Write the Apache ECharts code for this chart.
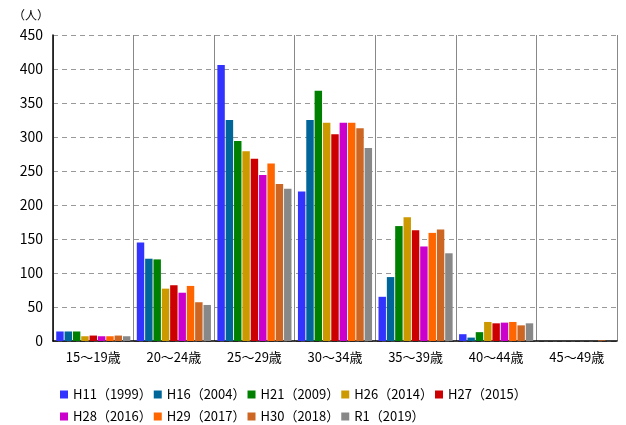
<!DOCTYPE html>
<html lang="ja">
<head>
<meta charset="UTF-8">
<title>年齢別</title>
<script src="https://cdn.jsdelivr.net/npm/echarts@6/dist/echarts.min.js"></script>
<style>
  html, body { margin: 0; padding: 0; background: #fff; }
  #main { width: 626px; height: 425px; }
</style>
</head>
<body>
<div id="main"></div>
<script>
// 年齢区分
const ageGroups = ['15～19歳', '20～24歳', '25～29歳', '30～34歳', '35～39歳', '40～44歳', '45～49歳'];
const yTicks = [0, 50, 100, 150, 200, 250, 300, 350, 400, 450];

// 年度ごとの人数
const seriesNames = ['H11（1999）', 'H16（2004）', 'H21（2009）', 'H26（2014）', 'H27（2015）',
                     'H28（2016）', 'H29（2017）', 'H30（2018）', 'R1（2019）'];
const h11 = [14, 145, 406, 220, 65, 10, 0];
const h16 = [14, 121, 325, 325, 94, 5, 0];
const h21 = [14, 120, 294, 368, 169, 13, 0];
const h26 = [7, 77, 279, 321, 182, 28, 0];
const h27 = [8, 82, 268, 304, 163, 26, 0];
const h28 = [7, 71, 244, 321, 139, 27, 0];
const h29 = [7, 81, 261, 321, 159, 28, 0];
const h30 = [8, 57, 231, 313, 164, 23, 1];
const r1  = [7, 53, 224, 284, 129, 26, 0];
const colors = ['#3333ff', '#006699', '#008000', '#cc9900', '#cc0000', '#cc00cc', '#ff6600', '#cc6622', '#888888'];

const allValues = [h11, h16, h21, h26, h27, h28, h29, h30, r1];

const chart = echarts.init(document.getElementById('main'));

const font = '"Noto Sans CJK JP", "Noto Sans", sans-serif';
const legendText = { fontFamily: font, fontSize: 13, color: '#000', width: 70 };

const option = {
  animation: false,
  title: {
    text: '（人）',
    left: 8, top: 4,
    textStyle: { fontFamily: font, fontSize: 12, fontWeight: 'normal', color: '#000' }
  },
  legend: [
    {
      data: seriesNames.slice(0, 5),
      left: 55, top: 383,
      itemWidth: 8, itemHeight: 8, itemGap: 2,
      icon: 'rect',
      textStyle: legendText
    },
    {
      data: seriesNames.slice(5),
      left: 55, top: 405,
      itemWidth: 8, itemHeight: 8, itemGap: 2,
      icon: 'rect',
      textStyle: legendText
    }
  ],
  grid: { left: 53, right: 9, top: 35, bottom: 84 },
  xAxis: {
    type: 'category',
    data: ageGroups,
    axisLine: { lineStyle: { color: '#000', width: 1.5 } },
    axisTick: { show: false },
    axisLabel: { fontFamily: font, fontSize: 13, color: '#000', margin: 10 },
    splitLine: { show: true, lineStyle: { color: '#888', width: 1 } }
  },
  yAxis: {
    type: 'value',
    min: yTicks[0],
    max: yTicks[yTicks.length - 1],
    interval: 50,
    axisLine: { show: true, lineStyle: { color: '#000', width: 1.5 } },
    axisTick: { show: false },
    axisLabel: { fontFamily: font, fontSize: 14, color: '#000', margin: 10 },
    splitLine: { lineStyle: { color: '#999', type: [5, 4], width: 1.2 } }
  },
  series: allValues.map((vals, i) => ({
    name: seriesNames[i],
    type: 'bar',
    data: vals,
    barGap: '12%',
    barCategoryGap: '8%',
    itemStyle: { color: colors[i] }
  }))
};

chart.setOption(option);
</script>
</body>
</html>
